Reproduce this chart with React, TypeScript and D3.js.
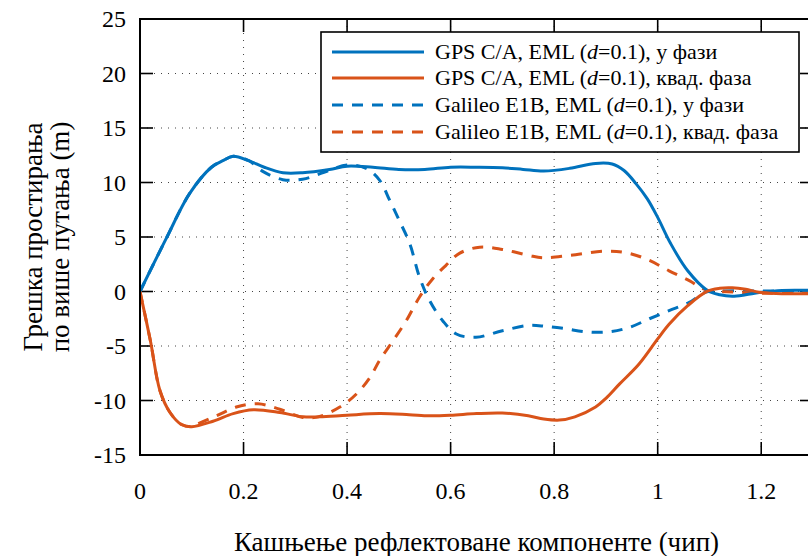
import React from "react";
import * as d3 from "d3";

const gpsIX = [0, 0.05, 0.096, 0.138, 0.16, 0.18, 0.21, 0.24, 0.276, 0.314, 0.366, 0.4, 0.45, 0.5, 0.55, 0.6, 0.65, 0.7, 0.74, 0.78, 0.83, 0.88, 0.912, 0.935, 0.958, 0.98, 1.0, 1.025, 1.058, 1.096, 1.12, 1.144, 1.17, 1.196, 1.24, 1.3];
const gpsIY = [0, 4.8, 9.0, 11.4, 12.0, 12.4, 12.0, 11.4, 10.9, 10.9, 11.2, 11.5, 11.4, 11.2, 11.2, 11.4, 11.4, 11.35, 11.2, 11.05, 11.3, 11.75, 11.7, 11.1, 9.9, 8.5, 6.8, 4.4, 1.9, 0.1, -0.3, -0.43, -0.3, -0.1, 0.1, 0.1];

const gpsQX = [0, 0.02, 0.0386, 0.058, 0.08, 0.1, 0.141, 0.18, 0.219, 0.27, 0.315, 0.347, 0.4, 0.463, 0.52, 0.559, 0.6, 0.65, 0.7, 0.75, 0.78, 0.81, 0.84, 0.88, 0.9, 0.926, 0.964, 1.0, 1.022, 1.058, 1.096, 1.12, 1.144, 1.17, 1.196, 1.24, 1.3];
const gpsQY = [0, -4.5, -9.1, -11.1, -12.2, -12.4, -11.9, -11.2, -10.85, -11.1, -11.5, -11.5, -11.35, -11.2, -11.3, -11.4, -11.35, -11.2, -11.15, -11.4, -11.7, -11.8, -11.5, -10.6, -9.8, -8.5, -6.65, -4.35, -3.0, -1.3, 0.03, 0.3, 0.34, 0.2, -0.06, -0.2, -0.2];

const galIX = [0, 0.05, 0.096, 0.138, 0.16, 0.18, 0.21, 0.238, 0.276, 0.314, 0.354, 0.4, 0.437, 0.463, 0.482, 0.501, 0.521, 0.54, 0.559, 0.585, 0.611, 0.649, 0.7, 0.752, 0.784, 0.82, 0.862, 0.906, 0.945, 0.984, 1.022, 1.061, 1.093, 1.13, 1.2, 1.3];
const galIY = [0, 4.8, 9.0, 11.4, 12.0, 12.4, 12.0, 11.0, 10.26, 10.3, 10.9, 11.6, 11.3, 10.2, 8.4, 6.5, 4.4, 1.3, -0.8, -2.7, -3.9, -4.2, -3.6, -3.1, -3.2, -3.4, -3.7, -3.7, -3.3, -2.5, -1.75, -1.0, -0.06, 0.05, 0.05, 0.03];

const galQX = [0, 0.02, 0.0386, 0.058, 0.08, 0.1, 0.109, 0.148, 0.186, 0.228, 0.27, 0.315, 0.344, 0.386, 0.418, 0.444, 0.463, 0.489, 0.514, 0.54, 0.566, 0.591, 0.617, 0.656, 0.7, 0.752, 0.778, 0.829, 0.9, 0.945, 0.984, 1.022, 1.061, 1.093, 1.15, 1.2, 1.3];
const galQY = [0, -4.5, -9.1, -11.1, -12.2, -12.4, -12.2, -11.4, -10.6, -10.3, -10.8, -11.55, -11.5, -10.6, -9.4, -7.9, -6.3, -4.5, -2.7, -0.5, 1.2, 2.4, 3.5, 4.07, 3.86, 3.3, 3.1, 3.3, 3.7, 3.5, 2.85, 1.9, 1.0, 0.15, -0.05, -0.15, -0.1];

const xTicks = [0, 0.2, 0.4, 0.6, 0.8, 1, 1.2];
const yTicks = [-15, -10, -5, 0, 5, 10, 15, 20, 25];
const legendLabels = [
  ["GPS C/A, EML (", "d", "=0.1), у фази"],
  ["GPS C/A, EML (", "d", "=0.1), квад. фаза"],
  ["Galileo E1B, EML (", "d", "=0.1), у фази"],
  ["Galileo E1B, EML (", "d", "=0.1), квад. фаза"],
];
const xTitle = "Кашњење рефлектоване компоненте (чип)";
const yTitle1 = "Грешка простирања";
const yTitle2 = "по више путања (m)";

const BLUE = "#0072BD";
const ORANGE = "#D95319";
const FONT = "'Liberation Serif', 'Times New Roman', serif";

export default function App() {
  const W = 808, H = 556;
  const L = 140, R = 813, T = 19, B = 455;
  const x = d3.scaleLinear().domain([0, 1.3]).range([L, R]);
  const y = d3.scaleLinear().domain([-15, 25]).range([B, T]);
  const line = (xs: number[], ys: number[]) =>
    d3.line<number>().x((_, i) => x(xs[i])).y((d) => y(d)).curve(d3.curveCatmullRom.alpha(0.5))(ys) || "";

  const series = [
    { xs: gpsIX, ys: gpsIY, color: BLUE, dash: undefined },
    { xs: gpsQX, ys: gpsQY, color: ORANGE, dash: undefined },
    { xs: galIX, ys: galIY, color: BLUE, dash: "11 9" },
    { xs: galQX, ys: galQY, color: ORANGE, dash: "11 9" },
  ];
  const drawOrder = [2, 3, 0, 1];

  const legX = 321, legY = 32, legW = 478, legH = 120;
  const rowY = [52, 78, 105, 132];

  return (
    <svg width={W} height={H} style={{ position: "absolute", left: 0, top: 0, background: "#fff" }} fontFamily={FONT}>
      <defs>
        <clipPath id="plot">
          <rect x={L} y={T} width={R - L} height={B - T} />
        </clipPath>
      </defs>
      <rect x={0} y={0} width={W} height={H} fill="#fff" />
      <g stroke="#444" strokeWidth={1} strokeDasharray="1 6">
        {xTicks.filter((t) => t > 0).map((t) => (
          <line key={"gx" + t} x1={x(t)} x2={x(t)} y1={T} y2={B} />
        ))}
        {yTicks.filter((t) => t > -15 && t < 25).map((t) => (
          <line key={"gy" + t} x1={L} x2={R} y1={y(t)} y2={y(t)} />
        ))}
      </g>
      <g stroke="#000" strokeWidth={1.6}>
        {xTicks.map((t) => (
          <g key={"tx" + t}>
            <line x1={x(t)} x2={x(t)} y1={B} y2={B - 13} />
            <line x1={x(t)} x2={x(t)} y1={T} y2={T + 13} />
          </g>
        ))}
        {yTicks.map((t) => (
          <g key={"ty" + t}>
            <line x1={L} x2={L + 13} y1={y(t)} y2={y(t)} />
            <line x1={R} x2={R - 13} y1={y(t)} y2={y(t)} />
          </g>
        ))}
      </g>
      <g clipPath="url(#plot)" fill="none" strokeWidth={3} strokeLinejoin="round">
        {drawOrder.map((i) => {
          const s = series[i];
          return <path key={i} d={line(s.xs, s.ys)} stroke={s.color} strokeDasharray={s.dash} />;
        })}
      </g>
      <rect x={L} y={T} width={R - L} height={B - T} fill="none" stroke="#000" strokeWidth={2} />
      <g fontSize={24} fill="#000">
        {xTicks.map((t) => (
          <text key={"lx" + t} x={x(t)} y={499} textAnchor="middle">{String(t)}</text>
        ))}
        {yTicks.map((t) => (
          <text key={"ly" + t} x={126} y={y(t) + 8} textAnchor="end">{String(t)}</text>
        ))}
      </g>
      <rect x={legX} y={legY} width={legW} height={legH} fill="#fff" stroke="#000" strokeWidth={1.6} />
      {series.map((s, i) => (
        <g key={"lg" + i}>
          <line x1={332} x2={424} y1={rowY[i]} y2={rowY[i]} stroke={s.color} strokeWidth={3} strokeDasharray={s.dash} />
          <text x={435} y={rowY[i] + 7} fontSize={22} fill="#000">
            {legendLabels[i][0]}
            <tspan fontStyle="italic">{legendLabels[i][1]}</tspan>
            {legendLabels[i][2]}
          </text>
        </g>
      ))}
      <text x={(L + R) / 2} y={551} textAnchor="middle" fontSize={27} fill="#000">{xTitle}</text>
      <g transform={`translate(42, ${(T + B) / 2}) rotate(-90)`}>
        <text x={0} y={0} textAnchor="middle" fontSize={27} fill="#000">{yTitle1}</text>
        <text x={0} y={27} textAnchor="middle" fontSize={27} fill="#000">{yTitle2}</text>
      </g>
    </svg>
  );
}
